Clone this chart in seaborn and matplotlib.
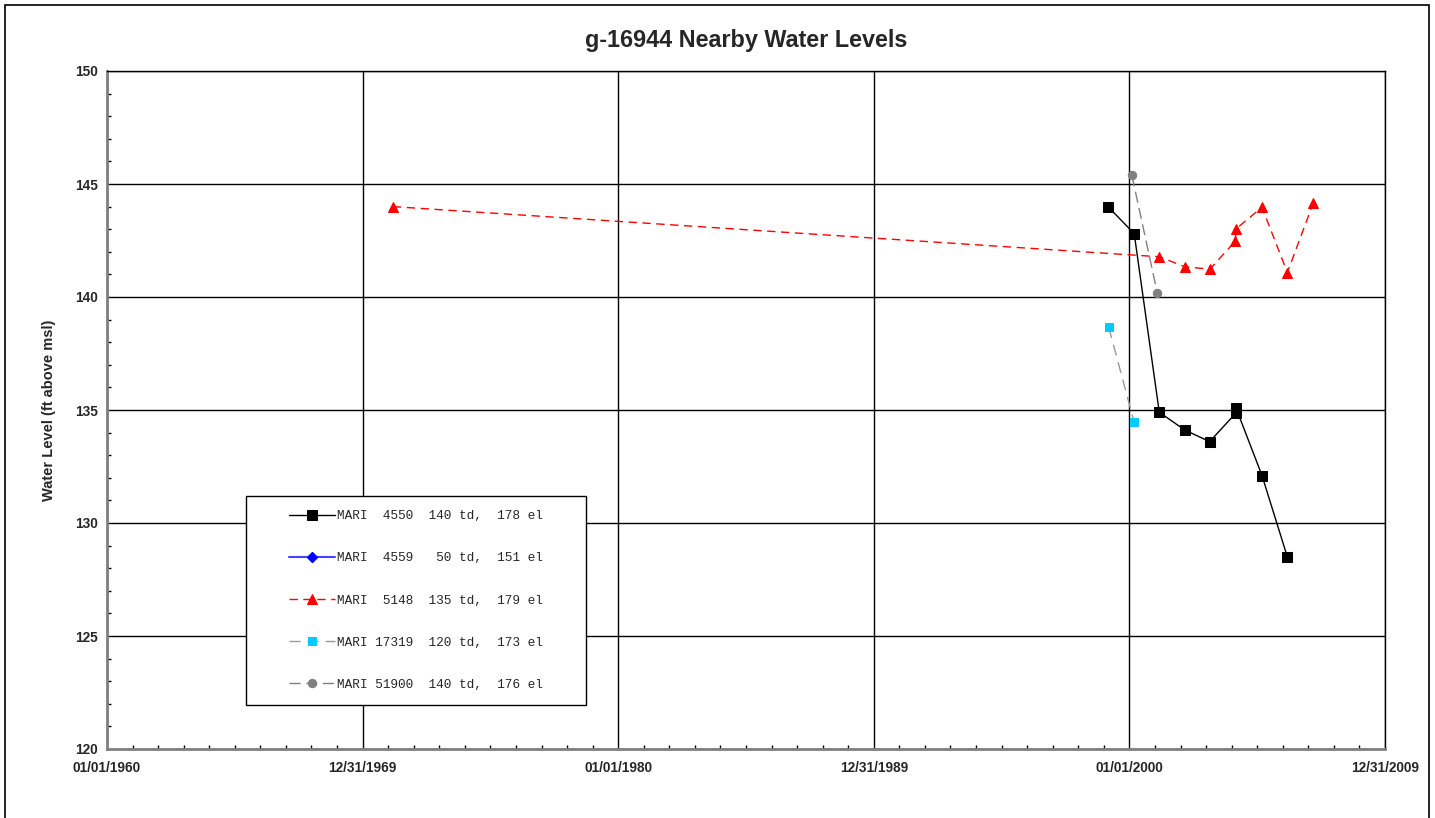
import numpy as np
import pandas as pd
import matplotlib
matplotlib.use("Agg")
import matplotlib.pyplot as plt
import matplotlib.dates as mdates
import matplotlib.ticker as mticker
from matplotlib.patches import Rectangle
import seaborn as sns

# ── Dados ────────────────────────────────────────────────────────────────────
w4550_datas = ["1999-03-01", "2000-03-10", "2001-03-03", "2002-02-28", "2003-02-20",
               "2004-02-27", "2004-03-02", "2005-03-10", "2006-03-07"]
w4550_nivel = [144.0, 142.8, 134.9, 134.12, 133.6, 134.85, 135.1, 132.1, 128.5]

w4559_datas = []
w4559_nivel = []

w5148_datas = ["1971-03-10", "2001-03-03", "2002-03-03", "2003-02-24", "2004-02-25",
               "2004-03-02", "2005-03-10", "2006-03-07", "2007-03-14"]
w5148_nivel = [144.0, 141.78, 141.34, 141.23, 142.48, 143.01, 143.97, 141.08, 144.17]

w17319_datas = ["1999-03-12", "2000-03-07"]
w17319_nivel = [138.66, 134.48]

w51900_datas = ["2000-02-06", "2001-02-02"]
w51900_nivel = [145.38, 140.19]

legendas = [
    "MARI  4550  140 td,  178 el",
    "MARI  4559   50 td,  151 el",
    "MARI  5148  135 td,  179 el",
    "MARI 17319  120 td,  173 el",
    "MARI 51900  140 td,  176 el",
]

# ── Estilo ───────────────────────────────────────────────────────────────────
sns.set_style("white")
plt.rcParams["font.family"] = ["Liberation Sans", "DejaVu Sans"]

fig = plt.figure(figsize=(14.35, 8.18), dpi=100)
ax = fig.add_axes([107 / 1435, 1 - 749 / 818, 1278 / 1435, 678 / 818])

# moldura externa
fig.patches.append(Rectangle((5 / 1435, -0.05), 1424 / 1435, 1.05 - 5 / 818,
                             transform=fig.transFigure, fill=False,
                             edgecolor="black", linewidth=1.2))

def serie(datas, nivel, **kw):
    df = pd.DataFrame({"data": pd.to_datetime(datas), "nivel": nivel})
    sns.lineplot(data=df, x="data", y="nivel", ax=ax, sort=False,
                 legend=False, estimator=None, **kw)

serie(w4550_datas, w4550_nivel, color="black", linewidth=1,
      marker="s", markersize=7, markerfacecolor="black", markeredgecolor="black")
ax.plot(pd.to_datetime(w4559_datas), w4559_nivel, color="#4444ff", linewidth=1.5,
        marker="D", markersize=5, markerfacecolor="#0000ff", markeredgecolor="#0000ff")
serie(w5148_datas, w5148_nivel, color="red", linewidth=1, dashes=(6, 4),
      marker="^", markersize=7, markerfacecolor="red", markeredgecolor="red")
serie(w17319_datas, w17319_nivel, color="#999999", linewidth=1, dashes=(8, 5),
      marker="s", markersize=6, markerfacecolor="#00ccff", markeredgecolor="#00ccff")
serie(w51900_datas, w51900_nivel, color="#808080", linewidth=1, dashes=(8, 4),
      marker="o", markersize=6, markerfacecolor="#808080", markeredgecolor="#808080")

# ── Eixos ────────────────────────────────────────────────────────────────────
x0 = mdates.date2num(pd.Timestamp("1960-01-01"))
ax.set_xlim(x0, x0 + 18262.5)
ax.set_ylim(120, 150)
ax.xaxis.set_major_locator(mticker.FixedLocator([x0 + 3652.5 * k for k in range(6)]))
ax.xaxis.set_minor_locator(mticker.FixedLocator([x0 + 365.25 * k for k in range(51)]))
ax.xaxis.set_major_formatter(mdates.DateFormatter("%m/%d/%Y"))
ax.yaxis.set_major_locator(mticker.MultipleLocator(5))
ax.yaxis.set_minor_locator(mticker.MultipleLocator(1))

ax.grid(True, which="major", color="black", linewidth=1)
ax.set_axisbelow(True)
for s in ["top", "right"]:
    ax.spines[s].set_color("black")
    ax.spines[s].set_linewidth(1)
for s in ["left", "bottom"]:
    ax.spines[s].set_color("#808080")
    ax.spines[s].set_linewidth(2)

ax.tick_params(axis="x", which="major", direction="inout", length=6, width=1,
               color="black", labelsize=9.8, pad=6)
ax.tick_params(axis="y", which="major", direction="out", length=3, width=1,
               color="black", labelsize=9.8, pad=3.4)
ax.tick_params(which="minor", direction="in", length=3, width=1, color="black",
               bottom=True, left=True)
for lbl in ax.get_xticklabels() + ax.get_yticklabels():
    lbl.set_fontweight("bold")

ax.set_xlabel("")
ax.set_ylabel("Water Level (ft above msl)", fontsize=10.5, fontweight="bold", labelpad=14)
fig.text(746 / 1435, 1 - 40 / 818, "g-16944 Nearby Water Levels",
         ha="center", va="center", fontsize=16.8, fontweight="bold")

# ── Legenda ──────────────────────────────────────────────────────────────────
caixa = (139 / 1278, 44 / 678, 340 / 1278, 209 / 678)
ax.add_patch(Rectangle(caixa[:2], caixa[2], caixa[3], transform=ax.transAxes,
                       facecolor="white", edgecolor="black", linewidth=1, zorder=5))
leg = ax.legend(ax.lines[:5], legendas, loc="center", bbox_to_anchor=caixa,
                prop={"family": "Liberation Mono", "size": 9.2},
                labelspacing=2.36, handlelength=3.6, handletextpad=0.2,
                frameon=False, borderpad=0.5)
leg.set_zorder(6)

fig.savefig("out.png", dpi=100)
